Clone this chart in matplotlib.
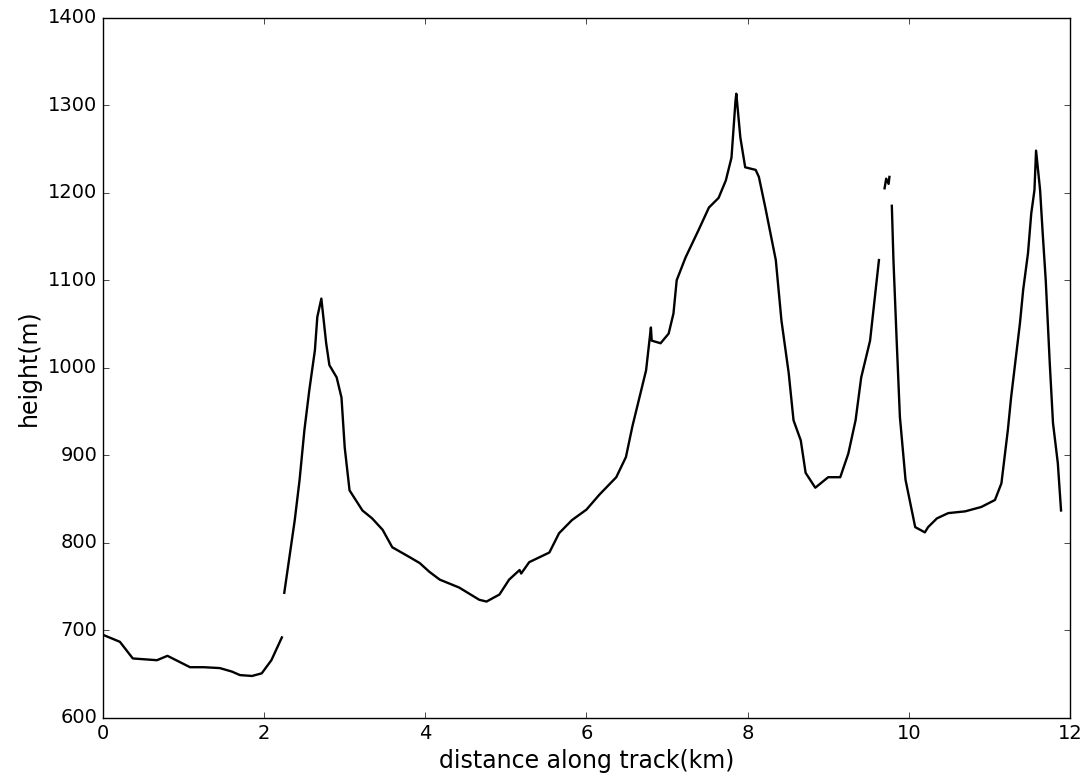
import numpy as np
import matplotlib
matplotlib.use("Agg")
import matplotlib.pyplot as plt

plt.style.use("classic")

dist = [0.00, 0.21, 0.37, 0.52, 0.67, 0.80, 0.95, 1.08, 1.25, 1.45, 1.60, 1.70, 1.85, 1.97, 2.09, 2.22,
        np.nan,
        2.25, 2.32, 2.38, 2.44, 2.50, 2.56, 2.63, 2.66, 2.71, 2.77, 2.81, 2.90, 2.96, 3.00, 3.06,
        3.22, 3.34, 3.47, 3.59, 3.80, 3.93, 4.05, 4.18, 4.42, 4.67, 4.76, 4.92, 5.04, 5.17, 5.19,
        5.29, 5.54, 5.66, 5.82, 6.00, 6.16, 6.37, 6.49, 6.57, 6.65, 6.74, 6.80, 6.81, 6.92, 7.02,
        7.08, 7.12, 7.23, 7.39, 7.52, 7.64, 7.73, 7.80, 7.85, 7.86, 7.91, 7.97, 8.10, 8.14, 8.22,
        8.35, 8.42, 8.51, 8.57, 8.66, 8.72, 8.84, 9.00, 9.15, 9.25, 9.34, 9.41, 9.52, 9.58, 9.63,
        np.nan,
        9.70, 9.72, 9.75, 9.76,
        np.nan,
        9.79, 9.81, 9.85, 9.89, 9.96, 10.08, 10.20, 10.24, 10.35, 10.49, 10.70, 10.90, 11.07,
        11.15, 11.23, 11.27, 11.32, 11.38, 11.42, 11.48, 11.52, 11.56, 11.58, 11.60, 11.63,
        11.66, 11.70, 11.75, 11.79, 11.85, 11.89]
height = [695, 687, 668, 667, 666, 671, 664, 658, 658, 657, 653, 649, 648, 651, 666, 692,
          np.nan,
          743, 788, 826, 872, 929, 974, 1020, 1058, 1079, 1028, 1003, 989, 966, 909, 860,
          837, 828, 815, 795, 784, 777, 767, 758, 749, 735, 733, 741, 758, 769, 765,
          778, 789, 811, 826, 838, 855, 875, 898, 933, 963, 997, 1046, 1031, 1028, 1039,
          1062, 1100, 1126, 1157, 1183, 1194, 1214, 1240, 1305, 1313, 1263, 1229, 1226, 1218, 1183,
          1123, 1054, 994, 940, 917, 880, 863, 875, 875, 902, 940, 989, 1031, 1081, 1123,
          np.nan,
          1205, 1216, 1210, 1218,
          np.nan,
          1185, 1123, 1031, 944, 872, 818, 812, 818, 828, 834, 836, 841, 849,
          868, 929, 966, 1005, 1051, 1089, 1131, 1176, 1203, 1248, 1230, 1203,
          1157, 1100, 1005, 937, 891, 837]

fig = plt.figure(figsize=(10.84, 7.8), dpi=100, facecolor="white")
ax = fig.add_axes([0.095, 0.0795, 0.892, 0.898])

ax.plot(dist, height, color="black", linewidth=1.7)

ax.set_xlim(0, 12)
ax.set_ylim(600, 1400)
ax.set_xticks(range(0, 13, 2))
ax.set_yticks(range(600, 1401, 100))
ax.tick_params(labelsize=14)
ax.set_xlabel("distance along track(km)", fontsize=17)
ax.set_ylabel("height(m)", fontsize=17)

plt.savefig("out.png", dpi=100, facecolor="white")
